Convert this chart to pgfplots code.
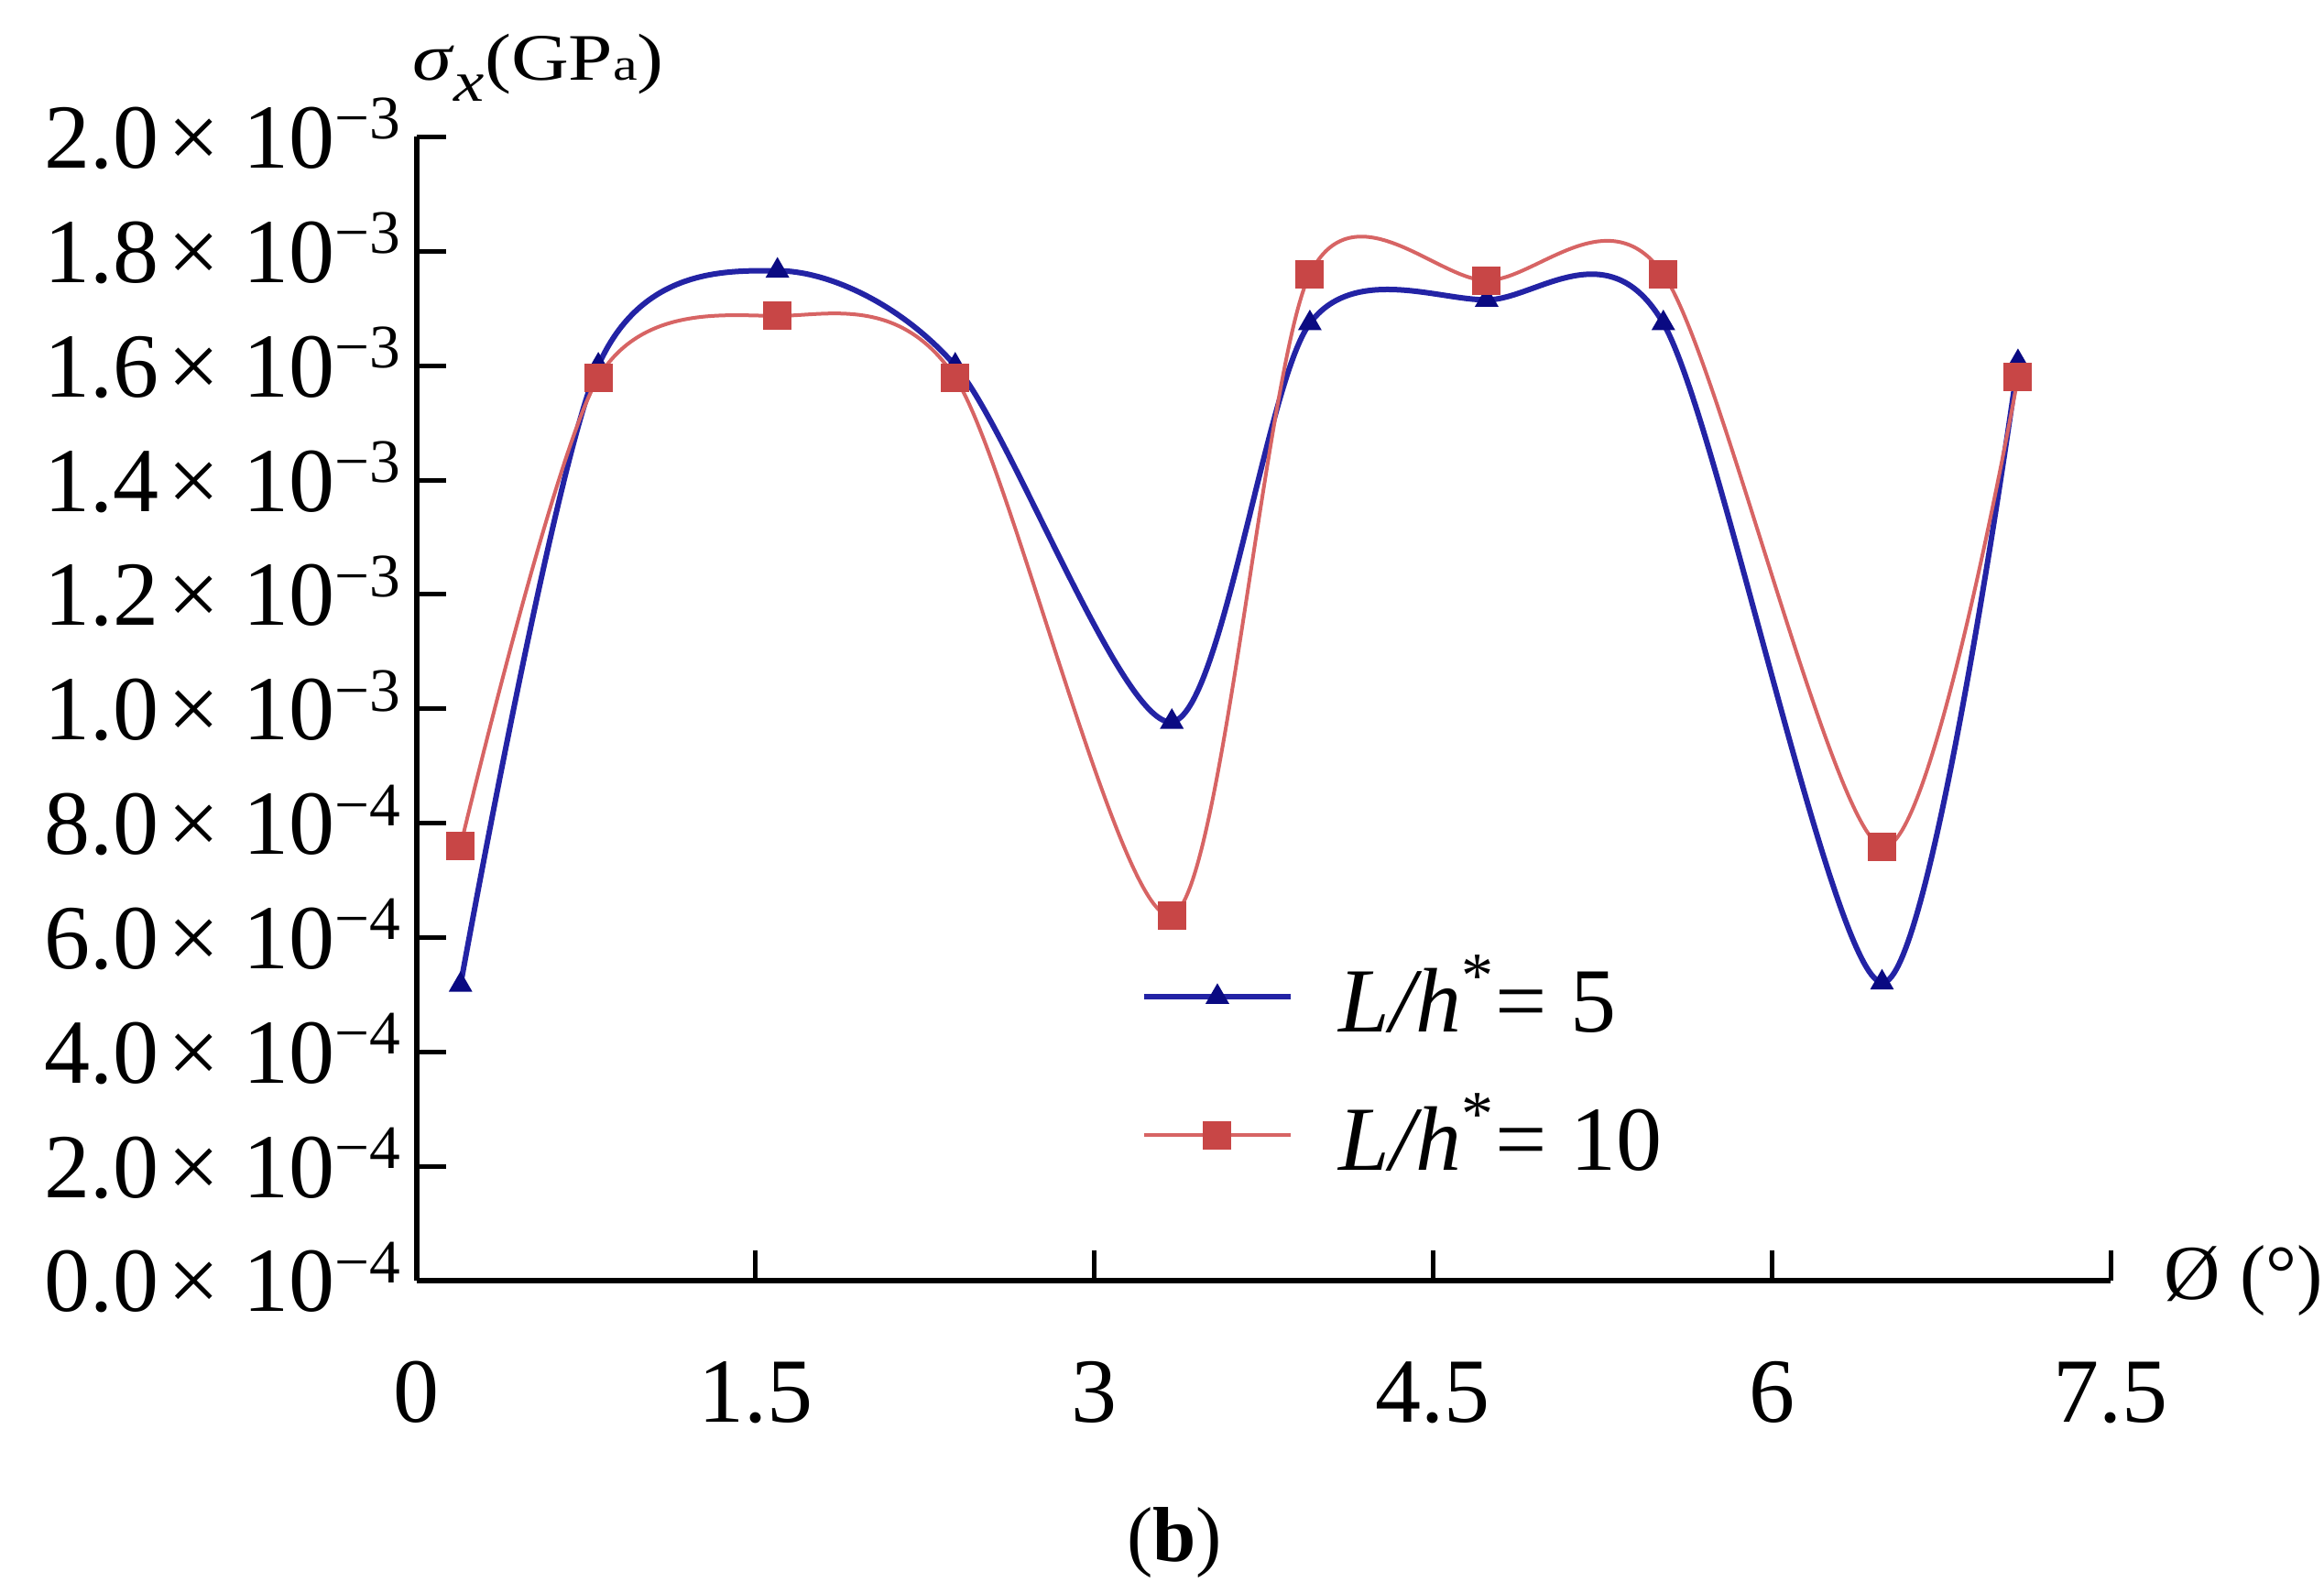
\documentclass[border=0pt]{standalone}
\usepackage{fontspec}
\setmainfont{Liberation Serif}
\usepackage{graphicx}
\usepackage{pgfplots}
\pgfplotsset{compat=1.18}

\definecolor{bline}{RGB}{35,35,165}
\definecolor{bmark}{RGB}{10,10,130}
\definecolor{rline}{RGB}{215,100,100}
\definecolor{rmark}{RGB}{200,70,70}

\newcommand\yl[2]{#1\hspace{2pt}×\hspace{5pt}10\raisebox{6.3pt}{\fontsize{13.5}{13.5}\selectfont −#2}}

\pgfplotstableread{
x y
0.195 0.000517
0.805 0.001600
1.598 0.001766
2.385 0.001600
3.344 0.000977
3.955 0.001674
4.738 0.001715
5.520 0.001674
6.488 0.000521
7.090 0.001606
}\blue

\pgfplotstableread{
x y
0.195 0.000760
0.805 0.001579
1.598 0.001687
2.385 0.001579
3.344 0.000639
3.955 0.001760
4.738 0.001749
5.520 0.001760
6.488 0.000759
7.090 0.001580
}\red

\begin{document}
\begin{tikzpicture}
\begin{axis}[
  at={(0,0)}, anchor=south west,
  scale only axis, width=369.9pt, height=249.7pt,
  xmin=0, xmax=7.5, ymin=0, ymax=0.002,
  axis x line*=bottom, axis y line*=left,
  axis line style={line width=1.2pt},
  tick align=inside, major tick length=6.5pt,
  tick style={line width=1pt, black},
  xtick={0,1.5,3,4.5,6,7.5},
  xticklabels={0,1.5,3,4.5,6,7.5},
  ytick={0,0.0002,0.0004,0.0006,0.0008,0.001,0.0012,0.0014,0.0016,0.0018,0.002},
  yticklabels={\yl{0.0}{4},\yl{2.0}{4},\yl{4.0}{4},\yl{6.0}{4},\yl{8.0}{4},\yl{1.0}{3},\yl{1.2}{3},\yl{1.4}{3},\yl{1.6}{3},\yl{1.8}{3},\yl{2.0}{3}},
  scaled y ticks=false,
  xticklabel style={font=\fontsize{20}{24}\selectfont, anchor=base, yshift=-31pt},
  yticklabel style={font=\fontsize{20}{24}\selectfont, anchor=base east, yshift=-6.8pt},
  xlabel={Ø (°)},
  xlabel style={at={(axis description cs:1,0)}, anchor=west, inner sep=0pt, xshift=11.5pt, font=\fontsize{17}{20}\selectfont},
  legend style={draw=none, fill=none, at={(axis cs:3.205,0.000375)}, anchor=west,
    inner sep=0pt, row sep=12pt, column sep=10pt, font=\fontsize{20}{24}\selectfont,
    nodes={inner sep=0pt}},
  legend cell align=left,
  legend image code/.code={\draw[mark repeat=2, mark phase=2, #1] plot coordinates {(0pt,0pt) (16pt,0pt) (32pt,0pt)};},
]
\addplot[color=bline, line width=1.2pt, smooth, mark=triangle*, mark size=2.5pt,
  mark options={solid, fill=bmark, draw=bmark, line width=0.5pt}] table[x=x,y=y] {\blue};
\addlegendentry{\textit{L/h}\textsuperscript{*}= 5}
\addplot[color=rline, line width=0.8pt, smooth, mark=square*, mark size=2.85pt,
  mark options={solid, fill=rmark, draw=rmark, line width=0.5pt}] table[x=x,y=y] {\red};
\addlegendentry{\textit{L/h}\textsuperscript{*}= 10}
\end{axis}
\node[anchor=base west, inner sep=0pt, font=\fontsize{14.5}{17}\selectfont]
  at (-1.1pt,262pt) {\scalebox{1.2}[1]{\textit{σ}\raisebox{-4.5pt}{\fontsize{12.5}{12.5}\selectfont\itshape x}(GP{\fontsize{10}{10}\selectfont a})}};
\node[font=\fontsize{17}{20}\selectfont] at (165.5pt,-57.2pt) {(\textbf{b})};
\pgfresetboundingbox
\path[use as bounding box] (-90.94pt,-68.2pt) rectangle (416.5pt,279.6pt);
\end{tikzpicture}
\end{document}
